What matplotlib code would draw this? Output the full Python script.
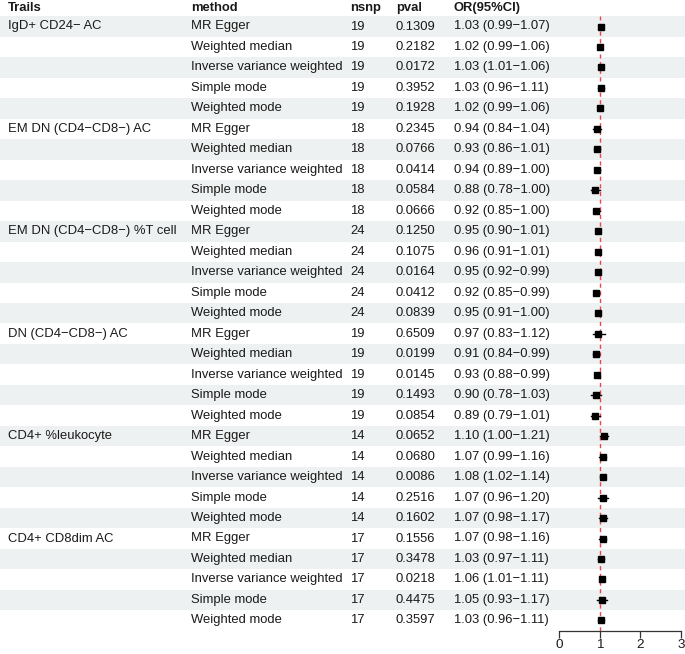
import matplotlib
matplotlib.use("Agg")
import matplotlib.pyplot as plt

plt.rcParams['font.family'] = ['Liberation Sans', 'DejaVu Sans']

traits = ["IgD+ CD24\u2212 AC", "EM DN (CD4\u2212CD8\u2212) AC", "EM DN (CD4\u2212CD8\u2212) %T cell",
          "DN (CD4\u2212CD8\u2212) AC", "CD4+ %leukocyte", "CD4+ CD8dim AC"]
methods = ["MR Egger", "Weighted median", "Inverse variance weighted", "Simple mode", "Weighted mode"]
nsnp = [19, 18, 24, 19, 14, 17]
pval = [0.1309, 0.2182, 0.0172, 0.3952, 0.1928,
        0.2345, 0.0766, 0.0414, 0.0584, 0.0666,
        0.1250, 0.1075, 0.0164, 0.0412, 0.0839,
        0.6509, 0.0199, 0.0145, 0.1493, 0.0854,
        0.0652, 0.0680, 0.0086, 0.2516, 0.1602,
        0.1556, 0.3478, 0.0218, 0.4475, 0.3597]
or_val = [1.03, 1.02, 1.03, 1.03, 1.02,
          0.94, 0.93, 0.94, 0.88, 0.92,
          0.95, 0.96, 0.95, 0.92, 0.95,
          0.97, 0.91, 0.93, 0.90, 0.89,
          1.10, 1.07, 1.08, 1.07, 1.07,
          1.07, 1.03, 1.06, 1.05, 1.03]
lo = [0.99, 0.99, 1.01, 0.96, 0.99,
      0.84, 0.86, 0.89, 0.78, 0.85,
      0.90, 0.91, 0.92, 0.85, 0.91,
      0.83, 0.84, 0.88, 0.78, 0.79,
      1.00, 0.99, 1.02, 0.96, 0.98,
      0.98, 0.97, 1.01, 0.93, 0.96]
hi = [1.07, 1.06, 1.06, 1.11, 1.06,
      1.04, 1.01, 1.00, 1.00, 1.00,
      1.01, 1.01, 0.99, 0.99, 1.00,
      1.12, 0.99, 0.99, 1.03, 1.01,
      1.21, 1.16, 1.14, 1.20, 1.17,
      1.16, 1.11, 1.11, 1.17, 1.11]
x_ticks = [0, 1, 2, 3]

W, H = 685, 654
fig = plt.figure(figsize=(W / 100, H / 100), dpi=100)
ax = fig.add_axes([0, 0, 1, 1])
ax.set_xlim(0, W)
ax.set_ylim(H, 0)
ax.axis('off')

row0 = 26.5
rh = 20.48
n = len(or_val)
ys = [row0 + i * rh for i in range(n)]

txt = '#1a1a1a'
fs = 9.4
col_x = [8, 191, 350, 396, 454]

# header
for x, lab in zip(col_x, ["Trails", "method", "nsnp", "pval", "OR(95%CI)"]):
    ax.text(x, 8, lab, fontsize=fs, fontweight='bold', color=txt, va='center', ha='left')

for i in range(n):
    y = ys[i]
    if i % 2 == 0:
        ax.axhspan(y - rh / 2, y + rh / 2, color='#EEF1F1', zorder=0, lw=0)
    g, m = divmod(i, 5)
    if m == 0:
        ax.text(col_x[0], y, traits[g], fontsize=fs, color=txt, va='center')
    ax.text(col_x[1], y, methods[m], fontsize=fs, color=txt, va='center')
    ax.text(col_x[2], y, str(nsnp[g]), fontsize=fs, color=txt, va='center')
    ax.text(col_x[3], y, f"{pval[i]:.4f}", fontsize=fs, color=txt, va='center')
    ax.text(col_x[4], y, f"{or_val[i]:.2f} ({lo[i]:.2f}\u2212{hi[i]:.2f})", fontsize=fs, color=txt, va='center')

# forest axes
x0, x3 = 559, 681
ybot = 631
ytop = ys[0] - rh / 2
fax = fig.add_axes([x0 / W, (H - ybot) / H, (x3 - x0) / W, (ybot - ytop) / H])
fax.patch.set_alpha(0)
fax.set_xlim(0, 3)
fax.set_ylim(ybot, ytop)
for s in ['top', 'right', 'left']:
    fax.spines[s].set_visible(False)
fax.spines['bottom'].set_color('#333333')
fax.spines['bottom'].set_linewidth(0.9)
fax.set_yticks([])
fax.set_xticks(x_ticks)
fax.tick_params(axis='x', length=5, width=0.9, color='#333333', labelsize=fs + 0.3, pad=0.5, labelcolor=txt)
fax.axvline(1, color='#E8474B', lw=1.0, ls=(0, (3, 2.5)), zorder=1)
for i in range(n):
    fax.plot([lo[i], hi[i]], [ys[i], ys[i]], color='black', lw=1.0, zorder=2)
fax.plot(or_val, ys, 's', color='black', ms=3.7, zorder=3)

fig.savefig('out.png', dpi=100)
